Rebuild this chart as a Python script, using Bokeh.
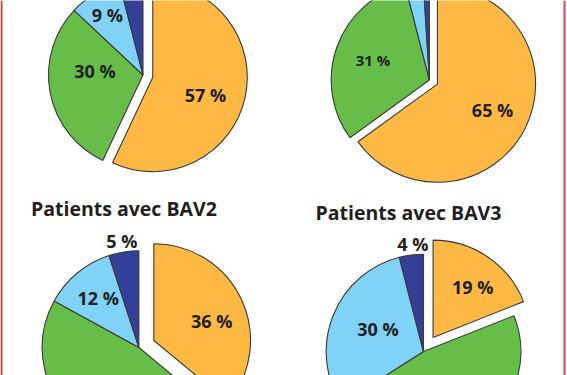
import math
from bokeh.plotting import figure
from bokeh.models import Range1d, Span, ColumnDataSource
from bokeh.embed import file_html
from bokeh.resources import INLINE
from bokeh.core.properties import value

# ---------------- data ----------------
segments = ["Segment 1", "Segment 2", "Segment 3", "Segment 4"]
seg_colors = ["#FDB943", "#66BD47", "#80D3F6", "#343F97"]

pie_tl = [57, 30, 9, 4]
pie_tr = [65, 31, 3, 1]
pie_bl = [36, 47, 12, 5]
pie_br = [19, 47, 30, 4]

labels_tl = ["57 %", "30 %", "9 %", ""]
labels_tr = ["65 %", "31 %", "", ""]
labels_bl = ["36 %", "", "12 %", "5 %"]
labels_br = ["19 %", "", "30 %", "4 %"]

titles = ["", "", "Patients avec BAV2", "Patients avec BAV3"]

# ---------------- layout (screen px) ----------------
W, H = 567, 375
pies = [
    # values, labels, title, cx, cy(screen), R, explode, label fracs, label nudges(deg), label sizes
    (pie_tl, labels_tl, titles[0], 142.5, 74.5, 94.5, 10, [0.59, 0.51, 0.74, 0], [6.5, 15, 0, 0], [18, 18, 18, 18]),
    (pie_tr, labels_tr, titles[1], 428.9, 79.5, 98.2, 9, [0.62, 0.61, 0, 0], [-2, 0, 0, 0], [18, 15, 15, 15]),
    (pie_bl, labels_bl, titles[2], 138.4, 347.0, 96.7, 16.5, [0.63, 0, 0.66, 1.12], [7, 0, 0, 0], [18, 18, 18, 18]),
    (pie_br, labels_br, titles[3], 423.0, 351.0, 97.3, 17, [0.66, 0, 0.52, 1.11], [4, 0, 4.5, 1.5], [18, 18, 18, 18]),
]

p = figure(width=W, height=H, x_range=Range1d(0, W), y_range=Range1d(0, H),
           min_border=0, toolbar_location=None, output_backend="svg")
p.axis.visible = False
p.grid.visible = False
p.outline_line_color = None
p.background_fill_color = "white"
p.border_fill_color = "white"

txt_color = "#231F20"
font = value("Open Sans")

wx, wy, wr, ws, we, wc = [], [], [], [], [], []
lx, ly, lt, lsz = [], [], [], []
tx, ty, tt = [], [], []

for vals, labs, title, cx, cy_s, R, expl, fr, nud, sizes in pies:
    cy = H - cy_s
    total = float(sum(vals))
    c0 = 0.0
    for i, v in enumerate(vals):
        span = 360.0 * v / total
        c1 = c0 + span
        mid = (c0 + c1) / 2.0
        ax, ay = cx, cy
        if i == 0:
            ax = cx + expl * math.sin(math.radians(mid))
            ay = cy + expl * math.cos(math.radians(mid))
        wx.append(ax); wy.append(ay); wr.append(R)
        ws.append(math.radians(90 - c0)); we.append(math.radians(90 - c1))
        wc.append(seg_colors[i])
        if labs[i]:
            a = math.radians(mid + nud[i])
            lx.append(ax + fr[i] * R * math.sin(a))
            ly.append(ay + fr[i] * R * math.cos(a))
            lt.append(labs[i])
            lsz.append(f"{sizes[i]}px")
        c0 = c1
    if title:
        tx.append(cx - 15)
        ty.append(cy + R + 42)
        tt.append(title)

wsrc = ColumnDataSource(dict(x=wx, y=wy, r=wr, s=ws, e=we, c=wc))
p.wedge(x="x", y="y", radius="r", start_angle="s", end_angle="e", direction="clock",
        fill_color="c", line_color="#3A3A3A", line_width=1.1, source=wsrc)

lsrc = ColumnDataSource(dict(x=lx, y=ly, t=lt, s=lsz))
p.text(x="x", y="y", text="t", text_font_size="s", text_font=font, text_font_style="bold",
       text_color=txt_color, text_align="center", text_baseline="middle", source=lsrc)

tsrc = ColumnDataSource(dict(x=tx, y=ty, t=tt))
p.text(x="x", y="y", text="t", text_font_size="19.5px", text_font=font, text_font_style="bold",
       text_color=txt_color, text_align="center", text_baseline="middle", source=tsrc)

p.add_layout(Span(location=1, dimension="height", line_color="#CF3A40", line_width=2))
p.add_layout(Span(location=564, dimension="height", line_color="#D9474D", line_width=2))

open("out.html", "w").write(file_html(p, INLINE))
